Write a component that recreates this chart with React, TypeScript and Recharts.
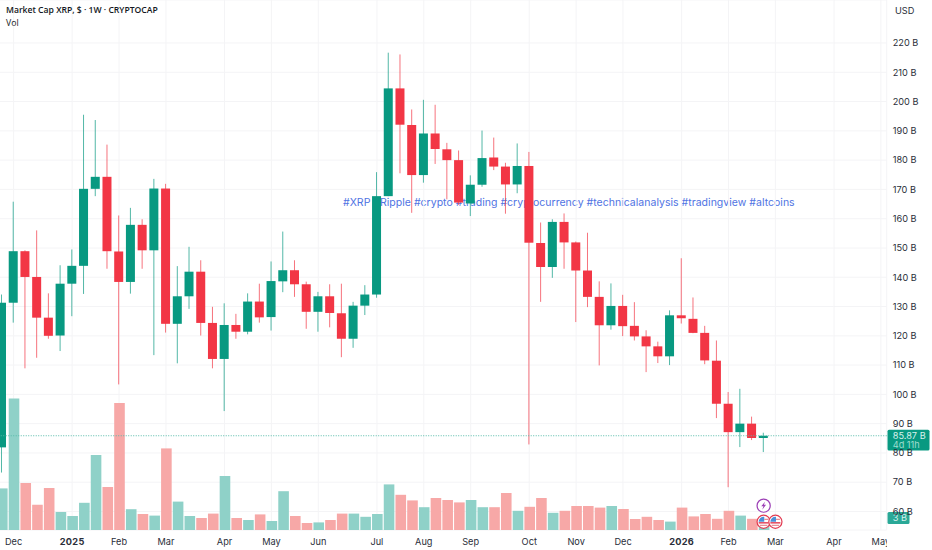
import React from 'react'
import {
  ComposedChart,
  Bar,
  XAxis,
  YAxis,
  CartesianGrid,
  ReferenceLine,
  ReferenceDot,
  Rectangle,
} from 'recharts'

const UP = '#089981'
const DOWN = '#f23645'
const UP_VOL = '#8fd1c8'
const DOWN_VOL = '#f7a8a7'
const INK = '#2a2e39'
const FONT = 'Inter, "Noto Sans", sans-serif'

const weeks = [
  '2024-11-18', '2024-11-25', '2024-12-02', '2024-12-09', '2024-12-16', '2024-12-23', '2024-12-30',
  '2025-01-06', '2025-01-13', '2025-01-20', '2025-01-27', '2025-02-03', '2025-02-10', '2025-02-17',
  '2025-02-24', '2025-03-03', '2025-03-10', '2025-03-17', '2025-03-24', '2025-03-31', '2025-04-07',
  '2025-04-14', '2025-04-21', '2025-04-28', '2025-05-05', '2025-05-12', '2025-05-19', '2025-05-26',
  '2025-06-02', '2025-06-09', '2025-06-16', '2025-06-23', '2025-06-30', '2025-07-07', '2025-07-14',
  '2025-07-21', '2025-07-28', '2025-08-04', '2025-08-11', '2025-08-18', '2025-08-25', '2025-09-01',
  '2025-09-08', '2025-09-15', '2025-09-22', '2025-09-29', '2025-10-06', '2025-10-13', '2025-10-20',
  '2025-10-27', '2025-11-03', '2025-11-10', '2025-11-17', '2025-11-24', '2025-12-01', '2025-12-08',
  '2025-12-15', '2025-12-22', '2025-12-29', '2026-01-05', '2026-01-12', '2026-01-19', '2026-01-26',
  '2026-02-02', '2026-02-09', '2026-02-16', '2026-02-23', '2026-03-02', '2026-03-09', '2026-03-16',
  '2026-03-23', '2026-03-30', '2026-04-06', '2026-04-13', '2026-04-20', '2026-04-27',
]

// weekly OHLC in billions of USD
const opens = [
  81.9, 131.3, 148.9, 140.1, 126.2, 120.1, 137.8, 143.9, 170.2, 174.3, 148.8,
  138.4, 157.9, 149.2, 170.3, 124.1, 133.5, 141.9, 124.4, 112.1, 123.7, 121.4,
  131.7, 126.4, 138.6, 142.4, 137.6, 128.2, 133.5, 127.7, 119.0, 130.3, 134.1,
  167.7, 204.5, 192.0, 174.9, 189.1, 183.7, 180.0, 165.2, 171.6, 180.9, 177.8,
  171.7, 178.0, 151.7, 143.5, 158.9, 151.9, 142.3, 133.3, 123.6, 130.2, 123.4,
  119.8, 116.4, 113.0, 127.0, 125.8, 121.0, 111.5, 96.8, 87.1, 90.0, 85.1,
]
const highs = [
  134.1, 165.8, 149.2, 156.0, 134.5, 144.1, 149.5, 195.5, 193.7, 185.3, 161.1,
  163.7, 159.8, 173.6, 171.9, 143.8, 150.4, 145.8, 129.9, 131.1, 127.5, 134.5,
  137.8, 145.4, 155.6, 145.8, 138.5, 135.0, 137.6, 137.8, 131.6, 137.3, 175.9,
  216.7, 216.1, 197.3, 200.6, 198.9, 185.9, 183.3, 174.8, 190.1, 187.7, 179.1,
  185.7, 182.8, 158.7, 159.8, 161.8, 152.2, 155.2, 138.6, 137.9, 134.0, 131.5,
  121.9, 118.0, 128.7, 146.5, 133.1, 123.4, 118.4, 100.8, 101.9, 92.4, 86.9,
]
const lows = [
  73.3, 124.5, 108.9, 112.5, 119.0, 114.8, 126.7, 134.3, 167.7, 142.9, 103.4,
  134.4, 142.9, 113.4, 121.1, 110.6, 129.2, 120.1, 108.9, 94.3, 119.0, 120.5,
  124.5, 121.8, 134.9, 133.3, 122.4, 121.4, 122.9, 112.7, 115.9, 127.1, 133.0,
  167.7, 175.5, 162.0, 172.3, 178.7, 166.6, 164.7, 160.9, 170.9, 176.6, 161.7,
  168.7, 82.9, 131.6, 139.8, 142.9, 124.7, 129.8, 109.9, 122.1, 119.9, 118.4,
  107.6, 110.7, 110.0, 124.2, 120.9, 110.3, 91.9, 68.3, 82.0, 84.4, 80.3,
]
const closes = [
  131.3, 148.9, 140.1, 126.2, 120.0, 137.8, 143.9, 170.2, 174.3, 148.9, 138.4,
  157.9, 149.2, 170.3, 124.1, 133.5, 141.9, 124.4, 112.1, 123.7, 121.4, 131.7,
  126.3, 138.7, 142.4, 137.6, 128.2, 133.5, 127.8, 119.0, 130.3, 134.1, 167.7,
  204.5, 192.1, 174.9, 189.1, 183.8, 180.0, 165.5, 171.6, 180.7, 177.8, 171.7,
  178.0, 151.8, 143.5, 158.9, 151.9, 142.3, 133.3, 123.6, 130.2, 123.3, 119.8,
  116.4, 113.0, 127.0, 126.0, 121.0, 111.6, 96.8, 87.1, 90.0, 85.1, 85.87,
]
const volumes = [
  10.4, 32.9, 11.75, 6.3, 10.5, 4.5, 3.5, 6.8, 18.75, 10.75, 31.75,
  5.2, 4, 3.6, 20.4, 7.1, 3.5, 3, 4.1, 13.5, 3, 2.5,
  3.9, 2.25, 9.7, 3.5, 1.75, 1.9, 2.5, 4.1, 4.1, 3.3, 4,
  11.4, 8.8, 7.4, 5.7, 8, 7.5, 6.9, 7.5, 5.7, 5.7, 9.25,
  4.8, 5.8, 8, 4.3, 4.8, 6, 6, 5.6, 6, 5.25, 2.75,
  3.3, 2.5, 2.1, 5.6, 3.4, 4, 2.8, 4.8, 3.6, 2.8, 3,
]

const tickWeeks = [
  '2024-11-25', '2024-12-30', '2025-01-27', '2025-02-24', '2025-03-31', '2025-04-28',
  '2025-05-26', '2025-06-30', '2025-07-28', '2025-08-25', '2025-09-29', '2025-10-27',
  '2025-11-24', '2025-12-29', '2026-01-26', '2026-02-23', '2026-03-30', '2026-04-27',
]
const tickLabels = [
  'Dec', '2025', 'Feb', 'Mar', 'Apr', 'May', 'Jun', 'Jul', 'Aug', 'Sep', 'Oct', 'Nov',
  'Dec', '2026', 'Feb', 'Mar', 'Apr', 'May',
]
const priceTicks = [60, 70, 80, 90, 100, 110, 120, 130, 140, 150, 160, 170, 180, 190, 200, 210, 220]

const LAST_PRICE = 85.87
const LAST_VOLUME = 3
const EVENT_WEEK = '2026-02-16'
const EVENT_WEEK_2 = '2026-02-23'
const HASHTAGS = '#XRP #Ripple #crypto #trading #cryptocurrency #technicalanalysis #tradingview #altcoins'

const chartData = weeks.map((week, i) => ({
  week,
  open: opens[i],
  high: highs[i],
  low: lows[i],
  close: closes[i],
  volume: volumes[i],
  range: highs[i] === undefined ? null : [lows[i], highs[i]],
}))

function Candle(props: any) {
  const { x, y, width, height, payload } = props
  if (payload.open === undefined) return null
  const { open, close, high, low } = payload
  const color = close >= open ? UP : DOWN
  const toY = (v: number) => y + ((high - v) / (high - low)) * height
  const top = toY(Math.max(open, close))
  const bottom = toY(Math.min(open, close))
  const mid = x + width / 2
  return (
    <g>
      <line x1={mid} x2={mid} y1={y} y2={y + height} stroke={color} strokeOpacity={0.7} strokeWidth={1} />
      <rect x={x} y={top} width={width} height={Math.max(bottom - top, 1.5)} fill={color} />
    </g>
  )
}

function VolumeBar(props: any) {
  const { payload } = props
  if (payload.volume === undefined) return null
  return <Rectangle {...props} fill={payload.close >= payload.open ? UP_VOL : DOWN_VOL} />
}

function MonthTick({ x, y, payload }: any) {
  const label = tickLabels[tickWeeks.indexOf(payload.value)]
  const isYear = /^\d+$/.test(label)
  return (
    <text
      x={x}
      y={y}
      dy={9}
      textAnchor="middle"
      fontFamily={FONT}
      fontSize={9.2}
      fontWeight={isYear ? 700 : 400}
      letterSpacing={isYear ? 0.3 : 0}
      fill={INK}
    >
      {label}
    </text>
  )
}

function PriceBadge({ viewBox }: any) {
  const left = viewBox.x + viewBox.width
  const cy = viewBox.y
  return (
    <g fontFamily={FONT} fontSize={9.2} fill="#d8f1ec">
      <rect x={left + 0.8} y={cy - 6} width={42} height={20.7} rx={1.5} fill={UP} />
      <text x={left + 6} y={cy + 3.2}>85.87 B</text>
      <text x={left + 6} y={cy + 12.4} fill="#9fdccf">4d 11h</text>
    </g>
  )
}

function VolumeBadge({ viewBox }: any) {
  const left = viewBox.x + viewBox.width
  const cy = viewBox.y
  return (
    <g fontFamily={FONT} fontSize={9.2} fill="#d8f1ec">
      <rect x={left + 0.8} y={cy - 6} width={22} height={12} rx={1.5} fill="#2aa897" />
      <text x={left + 6} y={cy + 3.4}>3 B</text>
    </g>
  )
}

function BoltIcon({ cx, cy }: any) {
  return (
    <g>
      <circle cx={cx} cy={cy} r={6.6} fill="#fff" stroke="#9c3fb5" strokeWidth={1.2} />
      <path
        d={`M${cx + 1.4} ${cy - 4} L${cx - 2.4} ${cy + 0.6} L${cx - 0.2} ${cy + 0.6} L${cx - 1.4} ${cy + 4} L${cx + 2.4} ${cy - 0.8} L${cx + 0.2} ${cy - 0.8} Z`}
        fill="#9c3fb5"
      />
    </g>
  )
}

function FlagIcon({ cx, cy }: any) {
  return (
    <g>
      <circle cx={cx} cy={cy} r={6.6} fill="#fff" stroke="#e23b52" strokeWidth={1.2} />
      <path d={`M${cx - 5} ${cy} A5 5 0 0 1 ${cx + 0.6} ${cy - 5} L${cx + 0.6} ${cy} Z`} fill="#4a90d9" />
      <rect x={cx + 0.6} y={cy - 3} width={4} height={1.2} fill="#e58a94" />
      <rect x={cx - 5} y={cy + 0.4} width={10} height={1.4} fill="#e23b52" />
      <rect x={cx - 3.8} y={cy + 3} width={7.6} height={1.2} fill="#e58a94" />
    </g>
  )
}

export default function App() {
  return (
    <div style={{ position: 'absolute', left: 0, top: 0, width: 932, height: 550, overflow: 'hidden', background: '#fff' }}>
      <div
        style={{
          position: 'absolute',
          left: 343,
          top: 196,
          fontFamily: FONT,
          fontSize: 10.5,
          letterSpacing: 0.02,
          color: '#4f73e3',
          whiteSpace: 'nowrap',
        }}
      >
        {HASHTAGS}
      </div>
      <div style={{ position: 'absolute', left: -4.16, top: 0 }}>
        <ComposedChart
          width={936.16}
          height={550}
          data={chartData}
          margin={{ top: 0, right: 0, bottom: 0, left: 0 }}
          barCategoryGap={0}
        >
          <CartesianGrid stroke="#f4f4f6" strokeWidth={1} xAxisId="price" yAxisId="price" />
          <XAxis
            xAxisId="price"
            dataKey="week"
            ticks={tickWeeks}
            interval={0}
            height={20}
            axisLine={false}
            tickLine={false}
            tickMargin={0}
            tick={<MonthTick />}
          />
          <XAxis xAxisId="vol" dataKey="week" hide />
          <YAxis
            yAxisId="price"
            orientation="right"
            width={45.44}
            domain={[53.68, 234.69]}
            allowDataOverflow
            ticks={priceTicks}
            interval={0}
            axisLine={false}
            tickLine={false}
            tickMargin={0}
            tickFormatter={(v: number) => `${v} B`}
            tick={{ fontFamily: FONT, fontSize: 9.2, fill: INK, textAnchor: 'start' }}
          />
          <YAxis yAxisId="vol" hide domain={[0, 132.5]} allowDataOverflow />
          <Bar
            xAxisId="vol"
            yAxisId="vol"
            dataKey="volume"
            barSize={10.6}
            shape={<VolumeBar />}
            isAnimationActive={false}
          />
          <Bar
            xAxisId="price"
            yAxisId="price"
            dataKey="range"
            barSize={9}
            shape={<Candle />}
            isAnimationActive={false}
          />
          <ReferenceLine
            xAxisId="price"
            yAxisId="price"
            y={LAST_PRICE}
            stroke="#56bba9"
            strokeWidth={1}
            strokeDasharray="1 1.5"
            label={<PriceBadge />}
          />
          <ReferenceLine
            xAxisId="price"
            yAxisId="vol"
            y={LAST_VOLUME}
            strokeOpacity={0}
            label={<VolumeBadge />}
          />
          <ReferenceDot xAxisId="price" yAxisId="price" x={EVENT_WEEK} y={62} shape={<BoltIcon />} />
          <ReferenceDot xAxisId="price" yAxisId="price" x={EVENT_WEEK} y={56.5} shape={<FlagIcon />} />
          <ReferenceDot xAxisId="price" yAxisId="price" x={EVENT_WEEK_2} y={56.5} shape={<FlagIcon />} />
        </ComposedChart>
      </div>
      <div style={{ position: 'absolute', left: 887, top: 531, width: 45, height: 19, background: '#fff' }} />
      <div style={{ position: 'absolute', left: 6, top: 4, fontFamily: '"Open Sans", sans-serif', fontSize: 8.6, fontWeight: 600, color: '#131722', whiteSpace: 'nowrap' }}>
        Market Cap XRP, $ · 1W · CRYPTOCAP
      </div>
      <div style={{ position: 'absolute', left: 6, top: 17, fontFamily: '"Open Sans", sans-serif', fontSize: 8.7, color: '#131722' }}>
        Vol
      </div>
      <div style={{ position: 'absolute', left: 895, top: 5, fontFamily: FONT, fontSize: 9.2, color: INK }}>USD</div>
    </div>
  )
}
